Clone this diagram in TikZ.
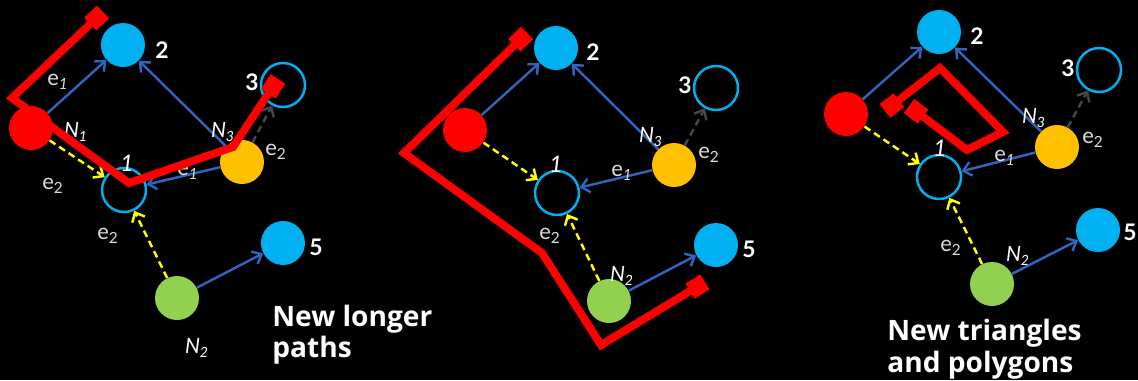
\documentclass[tikz,border=0pt]{standalone}
\usepackage{fontspec}
\setmainfont{Lato}
\newfontfamily\titelfont{Open Sans}
\usetikzlibrary{arrows.meta}

\definecolor{rot}{HTML}{FF0000}
\definecolor{hellblau}{HTML}{00B0F0}
\definecolor{orange2}{HTML}{FFC000}
\definecolor{gruen}{HTML}{92D050}
\definecolor{gelb}{HTML}{FFFF00}
\definecolor{kantenblau}{RGB}{50,100,190}
\definecolor{dunkelgrau}{RGB}{70,70,70}
\definecolor{hellgrau}{RGB}{220,220,220}

\newcommand{\ek}[1]{e\textsubscript{#1}}

\tikzset{
  knoten/.style={circle, minimum size=0.88cm, inner sep=0pt},
  voll/.style={knoten, fill=#1},
  leer/.style={knoten, draw=hellblau, line width=1.4pt},
  pfeil/.style={draw=kantenblau, line width=1.4pt, -{Straight Barb[length=4.5pt,width=8pt]}},
  gelbpfeil/.style={pfeil, draw=gelb, dash pattern=on 4pt off 2.5pt},
  graupfeil/.style={pfeil, draw=dunkelgrau, dash pattern=on 4pt off 2.5pt},
  pfad/.style={draw=rot, line width=4.5pt, miter limit=10, {Square[length=10pt,width=10pt]}-{Square[length=10pt,width=10pt]}},
  zahl/.style={text=white, font=\fontsize{13}{15}\selectfont\bfseries},
  eins/.style={text=white, font=\fontsize{13}{15}\selectfont\itshape},
  kante/.style={text=hellgrau, font=\fontsize{12.5}{14}\selectfont},
  nlabel/.style={text=white, font=\fontsize{12}{14}\selectfont\itshape},
  titel/.style={text=white, align=left, anchor=north west, inner sep=0pt}
}

\begin{document}
\begin{tikzpicture}[x=0.02cm, y=-0.02cm]
  % Schwarzer Hintergrund
  \fill[black] (0,0) rectangle (1138,380);
  \useasboundingbox (0,0) rectangle (1138,380);

  % Erster Graph: neue laengere Pfade
  \node[voll=rot] (r1) at (31,128) {};
  \node[voll=hellblau] (b1) at (123,45) {};
  \node[leer] (h1) at (283,85) {};
  \node[voll=orange2] (o1) at (242,162) {};
  \node[leer] (k1) at (124,190) {};
  \node[voll=hellblau] (f1) at (283,243) {};
  \node[voll=gruen] (g1) at (177,298) {};
  \draw[pfeil] (r1) -- (b1);
  \draw[pfeil] (o1) -- (b1);
  \draw[pfeil] (o1) -- (k1);
  \draw[pfeil] (g1) -- (f1);
  \draw[gelbpfeil] (r1) -- (k1);
  \draw[gelbpfeil] (g1) -- (k1);
  \draw[graupfeil] (o1) -- (h1);
  \node[zahl] (z2a) at (162,50) {2};
  \node[zahl] (z3a) at (252,82) {3};
  \node[zahl] (z5a) at (316,247) {5};
  \node[eins] (z1a) at (127,163) {1};
  \node[kante] (e1a) at (58,82) {\ek{\itshape 1}};
  \node[kante] (e2a) at (53,186) {\ek{2}};
  \node[kante] (e3a) at (188,172) {\ek{\itshape 1}};
  \node[kante] (e4a) at (276,152) {\ek{2}};
  \node[kante] (e5a) at (108,236) {\ek{2}};
  \node[nlabel] (n1a) at (76,132) {N\textsubscript{1}};
  \node[nlabel] (n3a) at (223,132) {N\textsubscript{3}};
  \node[nlabel] (n2a) at (197,348) {N\textsubscript{2}};
  \draw[pfad] (103,12) -- (12,98) -- (129,183) -- (233,147) -- (278,79);
  \node[titel, font=\titelfont\fontsize{16}{17.5}\selectfont\bfseries] (t1) at (272,305) {New longer\\paths};

  % Zweiter Graph
  \node[voll=rot] (r2) at (465,130) {};
  \node[voll=hellblau] (b2) at (556,48) {};
  \node[leer] (h2) at (716,88) {};
  \node[voll=orange2] (o2) at (674,165) {};
  \node[leer] (k2) at (557,193) {};
  \node[voll=hellblau] (f2) at (716,245) {};
  \node[voll=gruen] (g2) at (609,301) {};
  \draw[pfeil] (r2) -- (b2);
  \draw[pfeil] (o2) -- (b2);
  \draw[pfeil] (o2) -- (k2);
  \draw[pfeil] (g2) -- (f2);
  \draw[gelbpfeil] (r2) -- (k2);
  \draw[gelbpfeil] (g2) -- (k2);
  \draw[graupfeil] (o2) -- (h2);
  \node[zahl] (z2b) at (593,52) {2};
  \node[zahl] (z3b) at (685,85) {3};
  \node[zahl] (z5b) at (749,249) {5};
  \node[eins] (z1b) at (556,164) {1};
  \node[kante] (e3b) at (622,173) {\ek{\itshape 1}};
  \node[kante] (e4b) at (709,155) {\ek{2}};
  \node[kante] (e5b) at (550,236) {\ek{2}};
  \node[nlabel] (n3b) at (651,137) {N\textsubscript{3}};
  \node[nlabel] (n2b) at (622,276) {N\textsubscript{2}};
  \draw[pfad] (527,33) -- (404,153) -- (542,253) -- (601,345) -- (705,282);

  % Dritter Graph: neue Dreiecke und Polygone
  \node[voll=rot] (r3) at (846,114) {};
  \node[voll=hellblau] (b3) at (939,32) {};
  \node[leer] (h3) at (1099,70) {};
  \node[voll=orange2] (o3) at (1057,147) {};
  \node[leer] (k3) at (939,177) {};
  \node[voll=hellblau] (f3) at (1098,230) {};
  \node[voll=gruen] (g3) at (992,284) {};
  \draw[pfeil] (r3) -- (b3);
  \draw[pfeil] (o3) -- (b3);
  \draw[pfeil] (o3) -- (k3);
  \draw[pfeil] (g3) -- (f3);
  \draw[gelbpfeil] (r3) -- (k3);
  \draw[gelbpfeil] (g3) -- (k3);
  \draw[graupfeil] (o3) -- (h3);
  \node[zahl] (z2c) at (977,36) {2};
  \node[zahl] (z3c) at (1068,68) {3};
  \node[zahl] (z5c) at (1130,232) {5};
  \node[eins] (z1c) at (940,148) {1};
  \node[kante] (e3c) at (1005,158) {\ek{\itshape 1}};
  \node[kante] (e4c) at (1093,140) {\ek{2}};
  \node[kante] (e5c) at (951,248) {\ek{2}};
  \node[nlabel] (n3c) at (1034,118) {N\textsubscript{3}};
  \node[nlabel] (n2c) at (1018,256) {N\textsubscript{2}};
  \draw[pfad] (885,111) -- (940,68) -- (1003,132) -- (967,150) -- (909,106);
  \node[titel, font=\titelfont\fontsize{16}{18}\selectfont\bfseries] (t3) at (887,319) {New triangles\\and polygons};
\end{tikzpicture}
\end{document}
